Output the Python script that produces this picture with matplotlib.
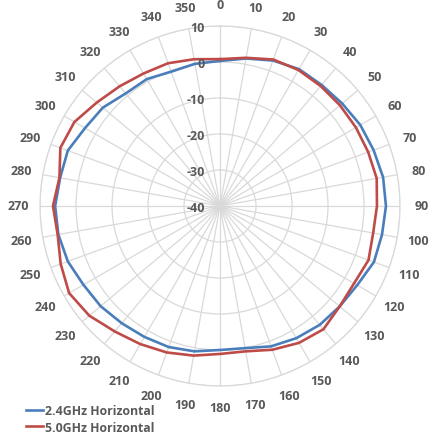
import matplotlib.pyplot as plt
import numpy as np

# angles in degrees, gain in dB
angles = list(range(0, 360, 10))
gain_24 = [0.3, 1.6, 3.0, 3.9, 3.9, 4.3, 5.0, 5.4, 6.0, 6.1,
           5.7, 5.5, 4.0, 3.4, 3.1, 2.4, 1.5, 0.1, 0.0, 1.0,
           1.7, 2.0, 2.5, 3.3, 3.8, 5.0, 5.6, 5.8, 5.1, 5.0,
           3.3, 2.5, 0.8, 0.7, -0.3, 0.1]
gain_50 = [0.8, 1.8, 3.3, 3.6, 3.5, 3.5, 3.6, 3.8, 4.2, 3.6,
           3.2, 3.9, 3.0, 3.4, 4.7, 3.9, 2.5, 1.0, 1.1, 2.2,
           3.3, 4.3, 5.5, 7.4, 8.4, 7.1, 5.8, 6.4, 5.3, 7.2,
           6.7, 4.7, 3.4, 2.5, 2.2, 1.4]
r_ticks = [-40, -30, -20, -10, 0, 10]
series_names = ['2.4GHz Horizontal', '5.0GHz Horizontal']

plt.rcParams['font.family'] = ['Open Sans', 'DejaVu Sans']
plt.rcParams['font.weight'] = 'bold'
text_gray = '#595959'
grid_gray = '#d9d9d9'

fig = plt.figure(figsize=(4.34, 4.39), dpi=100)
ax = fig.add_axes([0.0922, 0.1185, 0.8295, 0.820], projection='polar')
ax.set_theta_zero_location('N')
ax.set_theta_direction(-1)


def closed(vals):
    return np.append(vals, vals[0])


theta = np.deg2rad(closed(angles))
ax.plot(theta, closed(gain_24), color='#4a7ebb', lw=1.9, label=series_names[0])
ax.plot(theta, closed(gain_50), color='#be4b48', lw=1.9, label=series_names[1])

ax.set_rlim(r_ticks[0], r_ticks[-1])
ax.set_yticks(r_ticks)
ax.set_yticklabels([])
ax.set_thetagrids(angles, [str(a) for a in angles], fontweight='bold')
ax.tick_params(axis='x', pad=5, labelsize=9, labelcolor=text_gray)
ax.grid(True, color=grid_gray, lw=0.9)
ax.spines['polar'].set_color(grid_gray)
ax.spines['polar'].set_linewidth(0.9)

# radial labels along the 0 deg line, left of it
for t in r_ticks:
    ax.annotate(str(t), xy=(0, t), xytext=(-11, -1), textcoords='offset points',
                ha='right', va='center', fontsize=9, fontweight='bold',
                color=text_gray)

fig.legend(loc='lower left', bbox_to_anchor=(0.035, -0.015), frameon=False,
           handlelength=1.4, handletextpad=0.15, labelspacing=0.3,
           prop={'size': 8.8, 'weight': 'bold'}, labelcolor=text_gray)

fig.savefig('out.png', dpi=100)
